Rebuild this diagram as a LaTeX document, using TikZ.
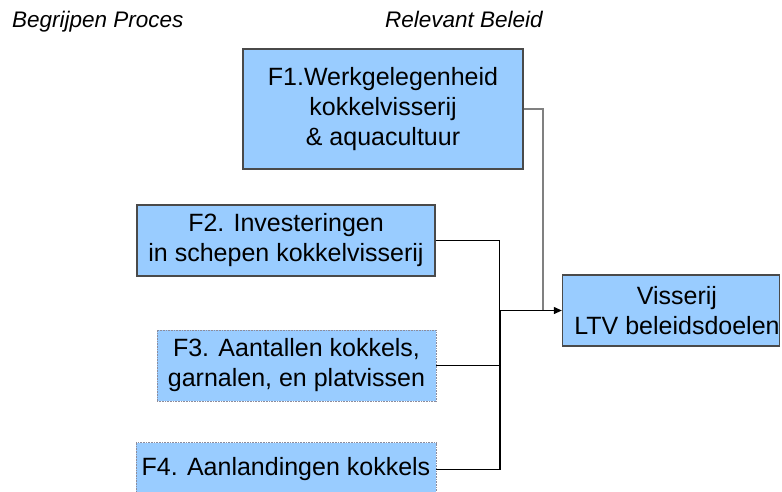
\documentclass[tikz,border=0pt]{standalone}
\usepackage{fontspec}
\setmainfont{Liberation Sans}
\usetikzlibrary{arrows.meta}
\definecolor{boxfill}{HTML}{99CCFF}
\definecolor{boxline}{HTML}{4A4A4A}
\definecolor{dotline}{HTML}{8C8C9C}
\begin{document}
\begin{tikzpicture}[x=1pt,y=-1pt,
  heading/.style={anchor=base west,inner sep=0pt,font=\itshape\fontsize{22.5}{26}\selectfont},
  factor/.style={fill=boxfill,inner sep=0pt,align=center,
    font=\fontsize{25}{30}\selectfont},
  solidbox/.style={factor,draw=boxline,line width=1.1pt},
  dottedbox/.style={factor,draw=dotline,line width=0.8pt,dash pattern=on 0.8pt off 0.8pt},
  link/.style={line width=1.2pt,black},
  graylink/.style={line width=1.4pt,gray}]
\useasboundingbox (0,0) rectangle (782,491);
\clip (0,0) rectangle (782,491);
\fill[white] (0,0) rectangle (782,491);

% column headings
\node[heading] (hproc) at (12,27) {Begrijpen Proces};
\node[heading] (hbel) at (385,27) {Relevant Beleid};

% factor boxes
\node[solidbox,minimum width=280pt,minimum height=120pt] (f1) at (383,109)
  {F1.Werkgelegenheid\\kokkelvisserij\\ \& aquacultuur};
\node[solidbox,minimum width=298pt,minimum height=71pt] (f2) at (286,240.5)
  {F2. Investeringen\\in schepen kokkelvisserij};
\node[dottedbox,minimum width=279pt,minimum height=71pt] (f3) at (296.5,365.5)
  {F3. Aantallen kokkels,\\garnalen, en platvissen};
\node[dottedbox,minimum width=300pt,minimum height=54pt] (f4) at (286,469.5)
  {F4. Aanlandingen kokkels};

% target box
\node[solidbox,minimum width=216pt,minimum height=71pt] (doel) at (671,310.5)
  {\hspace*{12pt}Visserij\\\hspace*{12pt}LTV beleidsdoelen};

% junction points of the connectors
\coordinate (bus) at (500,310.5);
\coordinate (drop) at (543,310.5);

% connectors
\draw[link] (f2.east) -- ++(64,0) |- (f3.east);
\draw[link] (f4.east) -| (bus);
\draw[graylink] (f1.east) -| (drop);
\draw[link,-{Triangle[length=8pt,width=7pt]}] (bus) -- (doel.west);
\end{tikzpicture}
\end{document}
